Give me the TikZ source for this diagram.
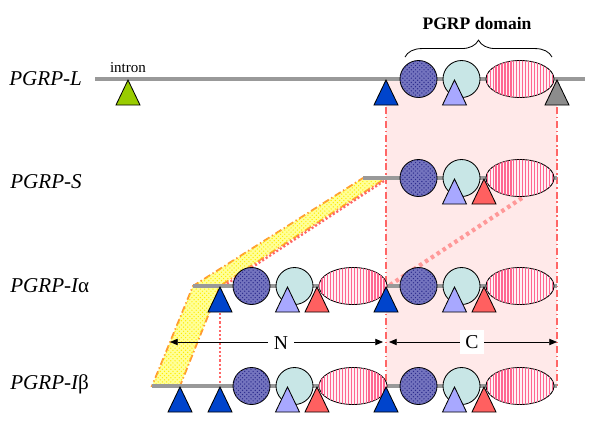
\documentclass[tikz,border=0pt]{standalone}
\usepackage{fontspec}
\setmainfont{Liberation Serif}
\usetikzlibrary{arrows.meta,patterns,patterns.meta,decorations.pathreplacing}

\definecolor{exon}{HTML}{999999}
\definecolor{cpink}{HTML}{FFE9E9}
\definecolor{cutred}{HTML}{FF6666}
\definecolor{mapred}{HTML}{FF9999}
\definecolor{bandyel}{HTML}{FFFF99}
\definecolor{bandorg}{HTML}{FF9933}
\definecolor{dblue}{HTML}{7474BE}
\definecolor{dnavy}{HTML}{2A2A8C}
\definecolor{dcyan}{HTML}{C8E6E6}
\definecolor{dpink}{HTML}{FFF0F4}
\definecolor{dstripe}{HTML}{FF6690}
\definecolor{tlav}{HTML}{A8A8FF}
\definecolor{tred}{HTML}{FF6060}
\definecolor{tblue}{HTML}{0044CC}
\definecolor{tgreen}{HTML}{99CC00}
\definecolor{tgray}{HTML}{8C8C8C}

\begin{document}
\begin{tikzpicture}[x=0.025cm, y=-0.025cm, every node/.style={inner sep=0.001},
    gene/.style={line width=2.8pt, draw=exon},
    cut/.style={draw=cutred, line width=1.3pt, dash pattern=on 5pt off 2pt on 1pt off 2pt},
    mapdots/.style={draw=mapred, line width=3pt, dash pattern=on 2.5pt off 2.5pt},
    reddots/.style={draw=cutred, line width=1.6pt, dash pattern=on 1.5pt off 1.5pt},
    band/.style={draw=bandorg, line width=1.3pt, dash pattern=on 5pt off 2pt on 1pt off 2pt,
      fill=bandyel, postaction={pattern=crosshatch dots, pattern color=yellow!85!orange}},
    ballA/.style={draw, line width=0.6pt, fill=dblue, postaction={pattern=crosshatch dots, pattern color=dnavy}},
    ballB/.style={draw, line width=0.6pt, fill=dcyan},
    eggC/.style={draw, line width=0.6pt, fill=dpink,
      postaction={pattern={Lines[angle=90, distance=2.1pt, line width=0.9pt]}, pattern color=dstripe}},
    tri/.pic={\draw[pic actions, line width=0.6pt] (-12,26) -- (0,1) -- (12,26) -- cycle;},
    genename/.style={anchor=base west, font=\fontsize{15}{18}\selectfont\itshape},
    span/.style={draw, line width=0.5pt, {Triangle[length=5.5pt,width=4.5pt]}-{Triangle[length=5.5pt,width=4.5pt]}},
    spanlabel/.style={fill=white, inner sep=4pt, font=\fontsize{14}{16}\selectfont}]

  \useasboundingbox (0,0) rectangle (600,422);

  % C-terminal block
  \fill[cpink] (386,79) rectangle (557,386);
  \draw[cut] (386,79) -- (386,386);
  \draw[cut] (557,79) -- (557,386);

  % Shared N-terminal exon
  \filldraw[band] (363,178) -- (386,178) -- (220,286) -- (180,386) -- (152,386) -- (193,286) -- cycle;
  \draw[reddots] (384,181) -- (222,287);
  \draw[reddots] (220,313) -- (220,386);
  \draw[mapdots] (522,198) -- (390,285);

  % Transcripts
  \foreach \a/\b/\y in {95/585/79, 363/557/178, 193/557/286, 152/557/386} {
    \draw[gene] (\a,\y) -- (\b,\y);
  }

  % Domain units
  \foreach \dx/\y in {0/79, 0/178, 0/286, 0/386, -167/286, -167/386} {
    \draw[ballA] (418.5+\dx,\y) circle[radius=18.5];
    \draw[ballB] (461.5+\dx,\y) circle[radius=18.5];
    \draw[eggC] (520+\dx,\y) ellipse[x radius=34, y radius=18.5];
    \pic[fill=tlav] at (454.5+\dx,\y) {tri};
  }
  \foreach \dx/\y in {0/178, 0/286, 0/386, -167/286, -167/386} {
    \pic[fill=tred] at (484+\dx,\y) {tri};
  }

  % Introns
  \pic[fill=tgreen] at (128,79) {tri};
  \pic[fill=tgray] at (557,79) {tri};
  \foreach \x/\y in {386/79, 386/286, 386/386, 220/286, 220/386, 180/386} {
    \pic[fill=tblue] at (\x,\y) {tri};
  }
  \node[anchor=base, font=\fontsize{10.7}{12}\selectfont] (intron) at (128,72) {intron};

  % PGRP domain brace
  \draw[line width=0.6pt, decorate, decoration={brace, amplitude=12pt}] (405,57) -- (552,57);
  \node[anchor=base, font=\fontsize{12.5}{14}\selectfont\bfseries] (domain) at (477,29) {PGRP domain};

  % N and C spans
  \coordinate (nL) at (170,342);
  \coordinate (nR) at (383,342);
  \coordinate (cL) at (389,342);
  \coordinate (cR) at (557,342);
  \draw[span] (nL) -- (nR);
  \draw[span] (cL) -- (cR);
  \node[spanlabel] (nlab) at (281,343) {N};
  \node[spanlabel] (clab) at (472,342) {C};

  % Row labels
  \node[genename] (rowL) at (9,85) {PGRP-L};
  \node[genename] (rowS) at (10,188) {PGRP-S};
  \node[genename] (rowIa) at (10,292) {PGRP-I{\upshape α}};
  \node[genename] (rowIb) at (10,389) {PGRP-I{\upshape β}};
\end{tikzpicture}
\end{document}
